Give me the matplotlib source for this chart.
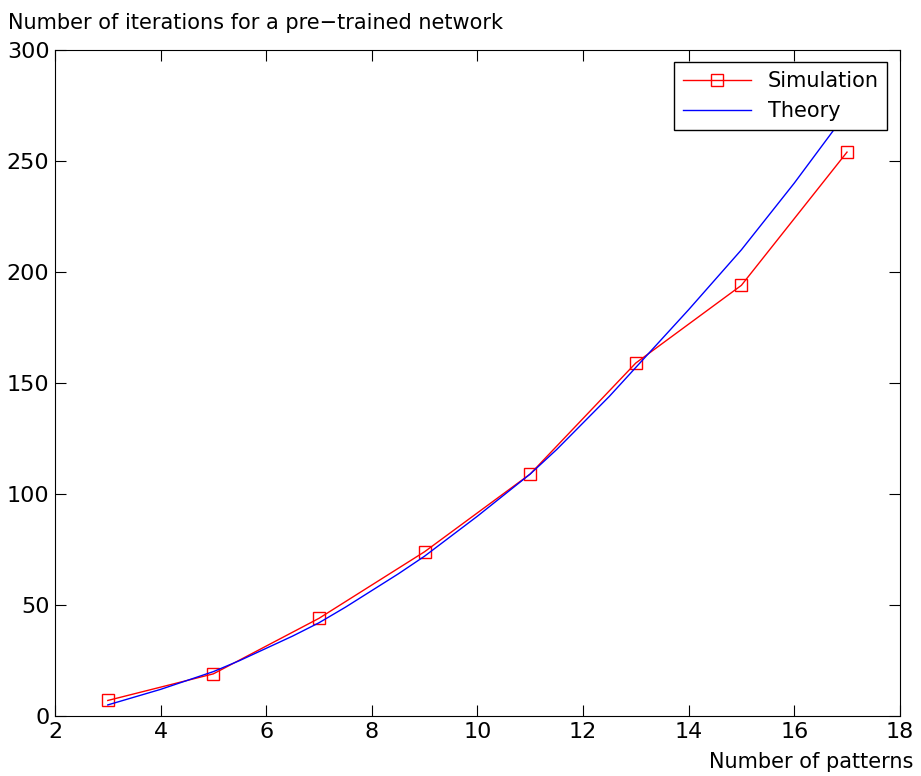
import numpy as np
import matplotlib
matplotlib.use('Agg')
import matplotlib.pyplot as plt

# simulation results
n_sim = [3, 5, 7, 9, 11, 13, 15, 17]
it_sim = [7, 19, 44, 74, 109, 159, 194, 254]

# theory curve, sampled every half pattern
n_theory = [3, 3.5, 4, 4.5, 5, 5.5, 6, 6.5, 7, 7.5, 8, 8.5, 9, 9.5, 10,
            10.5, 11, 11.5, 12, 12.5, 13, 13.5, 14, 14.5, 15, 15.5, 16, 16.5, 17]
it_theory = [5, 8.5, 12, 16, 20, 25, 30.5, 36, 42, 49, 56.5, 64, 72, 81, 90,
             99.5, 109, 120, 132, 144, 157, 170, 183, 196.5, 210, 225, 240, 256, 272]

fig = plt.figure(figsize=(9.21, 7.76), dpi=100)
ax = fig.add_axes([0.0597, 0.0773, 0.9173, 0.8583])

ax.plot(n_sim, it_sim, 'rs-', mfc='none', mec='r', markersize=9, lw=1, label='Simulation')
ax.plot(n_theory, it_theory, 'b-', lw=1, label='Theory')

ax.set_xlim(2, 18)
ax.set_ylim(0, 300)
ax.set_xticks(np.arange(2, 19, 2))
ax.set_yticks(np.arange(0, 301, 50))
ax.tick_params(direction='in', length=8, top=True, right=True, labelsize=16, pad=4)

leg = ax.legend(loc='upper right', fontsize=15, numpoints=1, fancybox=False,
                handlelength=3.3, borderaxespad=0.6, framealpha=1)
leg.get_frame().set_edgecolor('black')
leg.get_frame().set_linewidth(1)

fig.text(0.009, 0.963, 'Number of iterations for a pre\u2212trained network', fontsize=15)
fig.text(0.992, 0.005, 'Number of patterns', fontsize=15, ha='right', va='bottom')

fig.savefig('out.png', dpi=100)
